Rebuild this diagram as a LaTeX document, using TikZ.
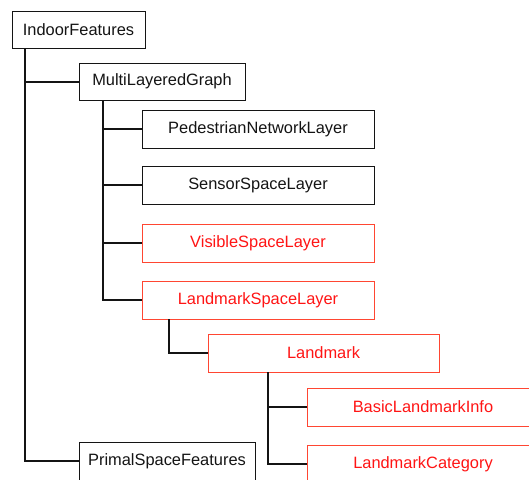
\documentclass[tikz,border=0pt]{standalone}
\usepackage{fontspec}
\usepackage{tikz}
\usetikzlibrary{positioning}
\newfontfamily\treefont{Liberation Sans}
\newcommand{\px}{0.75pt}
\definecolor{ink}{RGB}{20,20,20}
\definecolor{newitem}{RGB}{255,20,20}
\definecolor{newframe}{RGB}{255,70,50}
\tikzset{
    line cap=round,
    line join=round,
    classbox/.style={
        rectangle,
        draw=ink,
        line width=0.6pt,
        fill=white,
        text=ink,
        minimum width=232*\px,
        minimum height=38*\px,
        inner sep=0pt,
        font=\treefont\fontsize{12.3}{14}\selectfont
    },
    addedbox/.style={
        classbox,
        draw=newframe,
        text=newitem
    },
    branch/.style={
        draw=ink,
        line width=1.5pt,
        line cap=butt
    }
}

\begin{document}
\begin{tikzpicture}[x=\px, y=-\px]

\useasboundingbox (0,0) rectangle (529,479);
\clip (0,0) rectangle (529,479);

% Top level
\node[classbox, minimum width=133*\px, minimum height=37*\px] (root) at (78.5,29.5) {IndoorFeatures};
\node[classbox, minimum width=166*\px, minimum height=37*\px] (mlg) at (162,81.5) {MultiLayeredGraph};
\node[classbox, minimum width=176*\px] (psf) at (167,461) {PrimalSpaceFeatures};

% Layers of the graph
\node[classbox] (pnl) at (258,129) {PedestrianNetworkLayer};
\node[classbox] (ssl) at (258,185) {SensorSpaceLayer};
\node[addedbox] (vsl) at (258,243) {VisibleSpaceLayer};
\node[addedbox] (lsl) at (258,300) {LandmarkSpaceLayer};

% Landmark part
\node[addedbox, minimum width=231*\px] (lm) at (323.5,353) {Landmark};
\node[addedbox] (bli) at (423,407) {BasicLandmarkInfo};
\node[addedbox] (lc) at (423,464) {LandmarkCategory};

% Tree branches
\draw[branch] ([xshift=13*\px]root.south west) |- (mlg.west);
\draw[branch] ([xshift=13*\px]root.south west) |- (psf.west);

\draw[branch] ([xshift=24*\px]mlg.south west) |- (pnl.west);
\draw[branch] ([xshift=24*\px]mlg.south west) |- (ssl.west);
\draw[branch] ([xshift=24*\px]mlg.south west) |- (vsl.west);
\draw[branch] ([xshift=24*\px]mlg.south west) |- (lsl.west);

\draw[branch] ([xshift=27*\px]lsl.south west) |- (lm.west);

\draw[branch] ([xshift=60*\px]lm.south west) |- (bli.west);
\draw[branch] ([xshift=60*\px]lm.south west) |- (lc.west);

\end{tikzpicture}
\end{document}
